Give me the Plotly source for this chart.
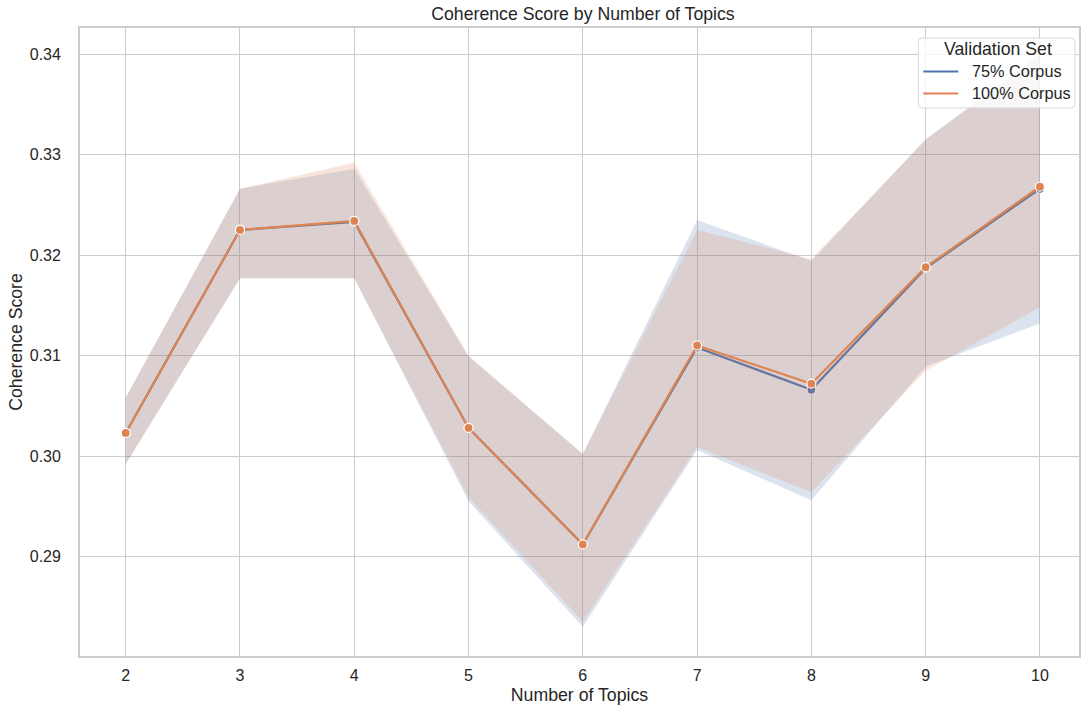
import plotly.graph_objects as go

# Number of topics on the x axis
topics = [2, 3, 4, 5, 6, 7, 8, 9, 10]

# Mean coherence score and confidence band, 75% corpus
mean_75 = [0.3023, 0.3225, 0.3233, 0.3028, 0.2912, 0.3108, 0.3066, 0.3187, 0.3266]
upper_75 = [0.3058, 0.3266, 0.3286, 0.3099, 0.3002, 0.3235, 0.3194, 0.3315, 0.3400]
lower_75 = [0.2992, 0.3177, 0.3177, 0.2955, 0.2830, 0.3006, 0.2956, 0.3089, 0.3132]

# Mean coherence score and confidence band, 100% corpus
mean_100 = [0.3023, 0.3225, 0.3234, 0.3028, 0.2912, 0.3110, 0.3072, 0.3188, 0.3268]
upper_100 = [0.3058, 0.3266, 0.3292, 0.3100, 0.3002, 0.3225, 0.3196, 0.3315, 0.3398]
lower_100 = [0.2992, 0.3177, 0.3177, 0.2959, 0.2835, 0.3009, 0.2964, 0.3085, 0.3148]

series_names = ["75% Corpus", "100% Corpus"]
legend_title = "Validation Set"
y_ticks = [0.29, 0.30, 0.31, 0.32, 0.33, 0.34]

BLUE = "#4c72b0"
ORANGE = "#dd8452"
TEXT = "#262626"
GRID = "#cccccc"
FONT = "Liberation Sans, Arial, sans-serif"

W, H = 1081, 709
ML, MR, MT, MB = 80, 0, 28, 53
PW, PH = W - ML - MR, H - MT - MB


def px(xp):
    """pixel column -> paper x"""
    return (xp - ML) / PW


def py(yp):
    """pixel row -> paper y"""
    return (H - MB - yp) / PH


fig = go.Figure()

series = [
    (series_names[0], mean_75, upper_75, lower_75, BLUE, "rgba(76,114,176,0.2)"),
    (series_names[1], mean_100, upper_100, lower_100, ORANGE, "rgba(221,132,82,0.2)"),
]

for name, mean, upper, lower, color, band in series:
    # confidence band as a closed polygon
    fig.add_trace(go.Scatter(
        x=topics + topics[::-1],
        y=upper + lower[::-1],
        fill="toself",
        fillcolor=band,
        line=dict(width=0),
        mode="lines",
        hoverinfo="skip",
        showlegend=False,
    ))
    # mean line with markers
    fig.add_trace(go.Scatter(
        x=topics,
        y=mean,
        mode="lines+markers",
        line=dict(color=color, width=2.2),
        marker=dict(color=color, size=9, line=dict(color="white", width=1.2)),
        name=name,
        showlegend=False,
    ))

# legend box with rounded corners, drawn in paper space
x0, x1, y0, y1, r = 920, 1077, 38, 108, 4
box_path = (
    f"M {px(x0 + r)} {py(y0)} L {px(x1 - r)} {py(y0)} "
    f"Q {px(x1)} {py(y0)} {px(x1)} {py(y0 + r)} "
    f"L {px(x1)} {py(y1 - r)} Q {px(x1)} {py(y1)} {px(x1 - r)} {py(y1)} "
    f"L {px(x0 + r)} {py(y1)} Q {px(x0)} {py(y1)} {px(x0)} {py(y1 - r)} "
    f"L {px(x0)} {py(y0 + r)} Q {px(x0)} {py(y0)} {px(x0 + r)} {py(y0)} Z"
)
shapes = [dict(
    type="path", xref="paper", yref="paper", path=box_path,
    fillcolor="rgba(255,255,255,0.8)", line=dict(color="#d9d9d9", width=1),
    layer="above",
)]
annotations = [dict(
    text=legend_title, xref="paper", yref="paper",
    x=px(1000), y=py(49), xanchor="center", yanchor="middle",
    showarrow=False, font=dict(size=17.7, color=TEXT, family=FONT),
)]
for i, (name, _, _, _, color, _) in enumerate(series):
    row = 71.5 + 22 * i
    shapes.append(dict(
        type="line", xref="paper", yref="paper",
        x0=px(925), x1=px(960), y0=py(row), y1=py(row),
        line=dict(color=color, width=2.2), layer="above",
    ))
    annotations.append(dict(
        text=name, xref="paper", yref="paper",
        x=px(972), y=py(row), xanchor="left", yanchor="middle",
        showarrow=False, font=dict(size=16.3, color=TEXT, family=FONT),
    ))

fig.update_layout(
    width=W,
    height=H,
    margin=dict(l=ML, r=MR, t=MT, b=MB),
    paper_bgcolor="white",
    plot_bgcolor="white",
    showlegend=False,
    font=dict(family=FONT, color=TEXT, size=16),
    shapes=shapes,
    annotations=annotations,
    title=dict(
        text="Coherence Score by Number of Topics",
        x=px(584), xref="paper", xanchor="center",
        y=1 - 14 / H, yanchor="middle",
        font=dict(size=17.7, color=TEXT),
    ),
    xaxis=dict(
        range=[1.6, 10.342],
        tickmode="array",
        tickvals=topics,
        ticktext=[str(t) for t in topics],
        showgrid=True,
        gridcolor=GRID,
        gridwidth=1.2,
        showline=True,
        linecolor=GRID,
        linewidth=1.8,
        mirror=True,
        zeroline=False,
        ticks="",
        ticklabelstandoff=4,
        tickfont=dict(size=16, color=TEXT),
        title=dict(text="Number of Topics", font=dict(size=17.7, color=TEXT), standoff=6),
    ),
    yaxis=dict(
        range=[0.2801, 0.3426],
        tickmode="array",
        tickvals=y_ticks,
        ticktext=[f"{v:.2f}" for v in y_ticks],
        showgrid=True,
        gridcolor=GRID,
        gridwidth=1.2,
        showline=True,
        linecolor=GRID,
        linewidth=1.8,
        mirror=True,
        zeroline=False,
        ticks="",
        ticklabelstandoff=14,
        tickfont=dict(size=16, color=TEXT),
        title=dict(text="Coherence Score", font=dict(size=17.7, color=TEXT), standoff=3),
    ),
)

fig.write_html("out.html")
